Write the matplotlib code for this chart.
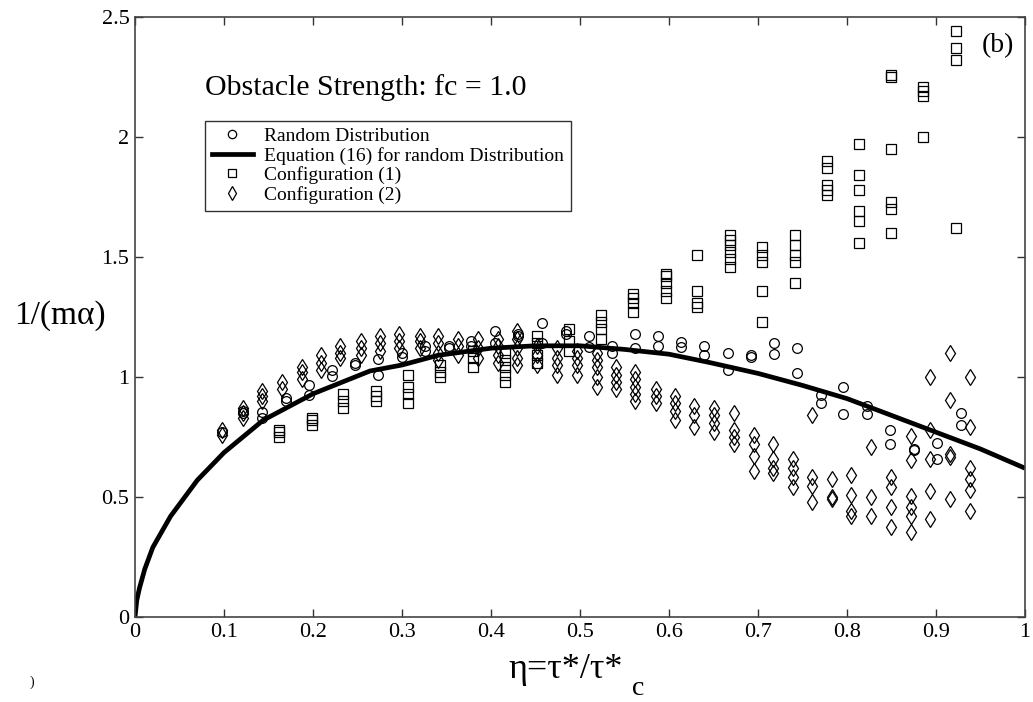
import matplotlib
matplotlib.use("Agg")
import matplotlib.pyplot as plt
from matplotlib.lines import Line2D

plt.rcParams['font.family'] = ['Liberation Serif', 'DejaVu Serif']
plt.rcParams['mathtext.fontset'] = 'stix'

# ---- data ----
rand_eta = [0.098, 0.121, 0.143, 0.170, 0.196, 0.221, 0.247, 0.273, 0.300, 0.326,
            0.353, 0.378, 0.405, 0.430, 0.457, 0.484, 0.510, 0.536, 0.562, 0.588,
            0.614, 0.639, 0.666, 0.692, 0.718, 0.744, 0.771, 0.796, 0.823, 0.848,
            0.875, 0.901, 0.928]
rand_vals = [[0.77], [0.85, 0.86], [0.855, 0.83], [0.913, 0.90], [0.967, 0.925],
             [1.03, 1.005], [1.06, 1.05], [1.075, 1.01], [1.10, 1.085], [1.13, 1.11],
             [1.13, 1.12], [1.15, 1.13], [1.19, 1.14], [1.18, 1.17], [1.225, 1.14],
             [1.19, 1.18], [1.17, 1.125], [1.13, 1.10], [1.18, 1.12], [1.17, 1.13],
             [1.145, 1.125], [1.13, 1.09], [1.10, 1.03], [1.09, 1.085], [1.14, 1.095],
             [1.12, 1.015], [0.925, 0.89], [0.96, 0.845], [0.88, 0.845], [0.78, 0.72],
             [0.70, 0.695], [0.725, 0.66], [0.85, 0.80]]

conf1_eta = [0.162, 0.199, 0.234, 0.271, 0.307, 0.343, 0.380, 0.416, 0.452, 0.488,
             0.524, 0.560, 0.597, 0.632, 0.669, 0.705, 0.742, 0.777, 0.813, 0.849,
             0.885, 0.922]
conf1_vals = [[0.75, 0.77, 0.78], [0.80, 0.82, 0.83], [0.87, 0.90, 0.93],
              [0.90, 0.92, 0.94], [1.01, 0.96, 0.93, 0.89], [1.00, 1.02, 1.05],
              [1.04, 1.08, 1.11], [0.98, 1.01, 1.04, 1.07, 1.10],
              [1.06, 1.09, 1.14, 1.17], [1.11, 1.15, 1.20], [1.16, 1.20, 1.23, 1.26],
              [1.27, 1.31, 1.33, 1.345], [1.33, 1.36, 1.39, 1.42, 1.43],
              [1.51, 1.36, 1.31, 1.29], [1.46, 1.49, 1.52, 1.55, 1.57, 1.59],
              [1.54, 1.51, 1.48, 1.36, 1.23], [1.59, 1.55, 1.51, 1.48, 1.39],
              [1.90, 1.87, 1.80, 1.78, 1.76], [1.97, 1.84, 1.78, 1.69, 1.65, 1.56],
              [2.26, 2.25, 1.95, 1.73, 1.70, 1.60], [2.21, 2.19, 2.17, 2.00],
              [2.44, 2.37, 2.32, 1.62]]

conf2_eta = [0.098, 0.121, 0.143, 0.165, 0.188, 0.209, 0.230, 0.254, 0.275, 0.297,
             0.320, 0.341, 0.363, 0.385, 0.408, 0.429, 0.452, 0.474, 0.497, 0.519,
             0.540, 0.562, 0.585, 0.607, 0.628, 0.650, 0.673, 0.695, 0.717, 0.739,
             0.761, 0.783, 0.805, 0.827, 0.849, 0.872, 0.893, 0.916, 0.938]
conf2_vals = [[0.76, 0.78], [0.83, 0.85, 0.87], [0.90, 0.92, 0.94], [0.95, 0.98],
              [0.99, 1.02, 1.04], [1.03, 1.06, 1.09], [1.08, 1.10, 1.13],
              [1.09, 1.12, 1.15], [1.11, 1.14, 1.17], [1.12, 1.15, 1.18],
              [1.12, 1.15, 1.17], [1.07, 1.10, 1.14, 1.17], [1.09, 1.13, 1.16],
              [1.08, 1.12, 1.16], [1.06, 1.09, 1.13, 1.16], [1.05, 1.08, 1.12, 1.16, 1.19],
              [1.05, 1.09, 1.13], [1.01, 1.05, 1.08, 1.12], [1.01, 1.05, 1.08, 1.11],
              [0.96, 1.00, 1.04, 1.07, 1.10], [0.95, 0.98, 1.01, 1.04],
              [0.90, 0.93, 0.96, 0.99, 1.02], [0.89, 0.92, 0.95],
              [0.82, 0.86, 0.89, 0.92], [0.79, 0.84, 0.88], [0.77, 0.81, 0.84, 0.87],
              [0.85, 0.72, 0.75, 0.78], [0.76, 0.72, 0.67, 0.61], [0.72, 0.66, 0.62, 0.60],
              [0.66, 0.62, 0.585, 0.54], [0.84, 0.585, 0.545, 0.48], [0.575, 0.50, 0.49],
              [0.59, 0.51, 0.44, 0.42], [0.71, 0.50, 0.42], [0.585, 0.54, 0.46, 0.375],
              [0.755, 0.655, 0.505, 0.46, 0.42, 0.355], [1.00, 0.78, 0.66, 0.525, 0.41],
              [1.10, 0.905, 0.68, 0.665, 0.49], [1.00, 0.79, 0.62, 0.575, 0.53, 0.44]]

eq_eta = [0.0, 0.002, 0.005, 0.011, 0.02, 0.04, 0.07, 0.1, 0.144, 0.2, 0.264, 0.3,
          0.34, 0.4, 0.45, 0.5, 0.55, 0.6, 0.646, 0.7, 0.75, 0.8, 0.85, 0.9, 0.95, 1.0]
eq_val = [0.0, 0.07, 0.12, 0.2, 0.29, 0.42, 0.57, 0.685, 0.82, 0.93, 1.025, 1.05,
          1.09, 1.12, 1.13, 1.13, 1.115, 1.095, 1.06, 1.015, 0.965, 0.91, 0.84, 0.77,
          0.70, 0.62]

x_ticks = [0, 0.1, 0.2, 0.3, 0.4, 0.5, 0.6, 0.7, 0.8, 0.9, 1]
x_tick_labels = ['0', '0.1', '0.2', '0.3', '0.4', '0.5', '0.6', '0.7', '0.8', '0.9', '1']
y_ticks = [0, 0.5, 1, 1.5, 2, 2.5]
y_tick_labels = ['0', '0.5', '1', '1.5', '2', '2.5']


def flatten(xs, cols):
    fx, fy = [], []
    for x, ys in zip(xs, cols):
        for y in ys:
            fx.append(x)
            fy.append(y)
    return fx, fy


W, H = 1033, 702
fig = plt.figure(figsize=(W / 100, H / 100), dpi=100)
ax = fig.add_axes([135 / W, 85 / H, 890 / W, 600 / H])

rx, ry = flatten(rand_eta, rand_vals)
c1x, c1y = flatten(conf1_eta, conf1_vals)
c2x, c2y = flatten(conf2_eta, conf2_vals)

mk = dict(linestyle='none', markerfacecolor='none', markeredgecolor='black',
          markeredgewidth=0.9)
ax.plot(c2x, c2y, marker='d', markersize=8, **mk)
ax.plot(rx, ry, marker='o', markersize=7, **mk)
ax.plot(c1x, c1y, marker='s', markersize=6.5, **mk)
ax.plot(eq_eta, eq_val, color='black', linewidth=3.4, solid_capstyle='butt')

ax.set_xlim(0, 1)
ax.set_ylim(0, 2.5)
ax.set_xticks(x_ticks)
ax.set_xticklabels(x_tick_labels)
ax.set_yticks(y_ticks)
ax.set_yticklabels(y_tick_labels)
ax.tick_params(direction='in', top=True, right=True, length=6, width=1,
               labelsize=16, color='#333333', pad=4)
for s in ax.spines.values():
    s.set_color('#444444')
    s.set_linewidth(1.2)

# axis labels placed as in the reference
fig.text(508 / W, 1 - 678 / H, 'η=τ*/τ*', fontsize=26, ha='left', va='baseline')
fig.text(632 / W, 1 - 695 / H, 'c', fontsize=20, ha='left', va='baseline')
fig.text(60 / W, 1 - 316 / H, '1/(mα)', fontsize=24, ha='center', va='center')

ax.text(0.0787, 0.883, 'Obstacle Strength: fc = 1.0', transform=ax.transAxes,
        fontsize=21.5, va='center', ha='left')
ax.text(0.970, 0.952, '(b)', transform=ax.transAxes, fontsize=20,
        va='center', ha='center')

handles = [
    Line2D([], [], marker='o', markersize=6, **mk),
    Line2D([], [], color='black', linewidth=3.4),
    Line2D([], [], marker='s', markersize=6, **mk),
    Line2D([], [], marker='d', markersize=7, **mk),
]
labels = ['Random Distribution', 'Equation (16) for random Distribution',
          'Configuration (1)', 'Configuration (2)']
leg = ax.legend(handles, labels, loc='upper left', bbox_to_anchor=(0.0787, 0.827),
                fontsize=14, frameon=True, fancybox=False, edgecolor='black',
                borderpad=0.35, labelspacing=0.08, handlelength=2.1,
                handletextpad=0.6, borderaxespad=0)
leg.get_frame().set_linewidth(1.0)

fig.text(30 / W, 1 - 682 / H, ')', fontsize=10, va='center')

fig.savefig('out.png', dpi=100)
